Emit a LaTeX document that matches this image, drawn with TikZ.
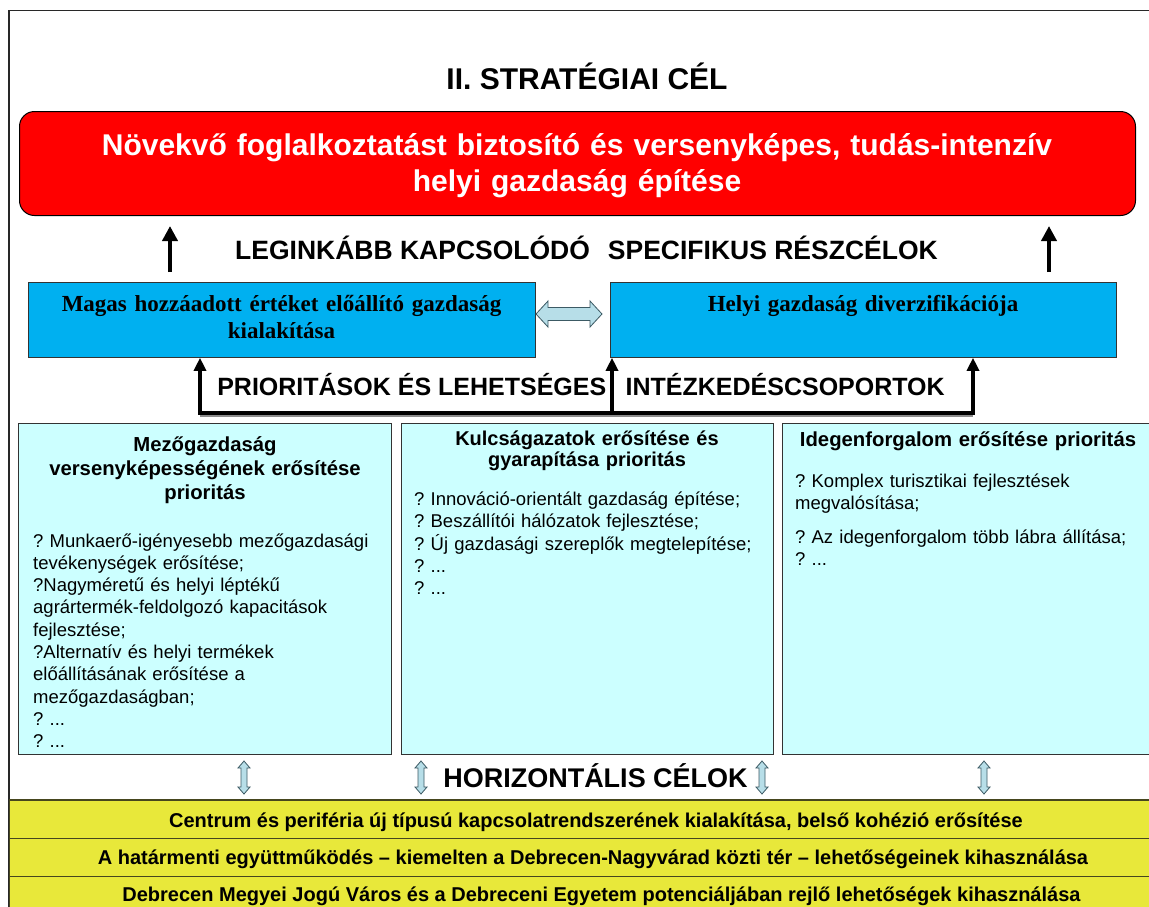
\documentclass[tikz,border=0pt]{standalone}
\usepackage{fontspec}
\setmainfont{Liberation Sans}
\newfontfamily\tnr{Liberation Serif}
\usetikzlibrary{arrows.meta}
\frenchspacing
\definecolor{redbox}{RGB}{255,0,0}
\definecolor{bluebox}{RGB}{0,176,240}
\definecolor{cyanbox}{RGB}{204,255,255}
\definecolor{yelbox}{RGB}{232,232,58}
\definecolor{arrfill}{RGB}{183,222,232}
\definecolor{arrline}{RGB}{60,90,100}
\definecolor{framecol}{RGB}{40,40,40}
\definecolor{yline}{RGB}{70,70,30}
\tikzset{
  goalbox/.style={draw=black, line width=1pt, fill=redbox, rounded corners=15pt, inner sep=0pt},
  subbox/.style={draw=black!80, line width=0.8pt, fill=bluebox, inner sep=0pt},
  prbox/.style={draw=black!80, line width=0.8pt, fill=cyanbox, inner sep=0pt},
  hrow/.style={draw=yline, line width=1pt, fill=yelbox, inner sep=0pt},
  upar/.style={line width=4pt, -{Triangle[width=15pt,length=15pt]}},
  brk/.style={line width=3.5pt, line join=miter},
  brkar/.style={line width=3.5pt, -{Triangle[width=12pt,length=13pt]}},
  dblar/.style={fill=arrfill, draw=arrline, line width=0.8pt, line join=miter},
  bigcap/.style={font=\fontsize{26.5}{30}\selectfont\bfseries, inner sep=0pt, anchor=base},
  phead/.style={font=\fontsize{20.3}{24}\selectfont\bfseries, inner sep=0pt, anchor=base, text width=370pt, align=center},
  pbody/.style={font=\fontsize{18.5}{22.3}\selectfont\frenchspacing, inner sep=0pt, anchor=base west, text width=360pt, align=left},
  htext/.style={font=\fontsize{20}{24}\selectfont\bfseries, inner sep=0pt, anchor=base}
}
\begin{document}
\begin{tikzpicture}[x=1pt,y=-1pt]
\useasboundingbox (0,0) rectangle (1149,906);
\clip (0,0) rectangle (1149,906);
\fill[white] (0,0) rectangle (1149,906);
% outer frame
\draw[framecol, line width=1.3pt] (9,930) -- (9,10.5) -- (1170,10.5);

% title
\node[font=\fontsize{30}{36}\selectfont\bfseries, inner sep=0pt, anchor=base] (title) at (587,89) {II. STRATÉGIAI CÉL};

% main goal
\node[goalbox, anchor=north west, minimum width=1116pt, minimum height=104pt] (goal) at (19,111) {};
\node[font=\fontsize{30}{36}\selectfont\bfseries, text=white, inner sep=0pt, anchor=base, text width=1100pt, align=center] (goaltext) at (577,155)
  {Növekvő foglalkoztatást biztosító és versenyképes, tudás-intenzív\\helyi gazdaság építése};

% sub-goal caption
\node[bigcap] (subcap) at (586.5,259) {LEGINKÁBB KAPCSOLÓDÓ\hspace{0.4em} SPECIFIKUS RÉSZCÉLOK};

% sub-goal boxes
\node[subbox, anchor=north west, minimum width=507pt, minimum height=75pt] (lb) at (28,282) {};
\node[subbox, anchor=north west, minimum width=506pt, minimum height=75pt] (rb) at (610,282) {};
\node[font=\tnr\bfseries\fontsize{23}{27.5}\selectfont, inner sep=0pt, anchor=base, text width=500pt, align=center] (lbtext) at (281.5,311)
  {Magas hozzáadott értéket előállító gazdaság\\kialakítása};
\node[font=\tnr\bfseries\fontsize{23}{27.5}\selectfont, inner sep=0pt, anchor=base, text width=500pt, align=center] (rbtext) at (863,311)
  {Helyi gazdaság diverzifikációja};

% up arrows to main goal
\coordinate (u1) at (170,272);
\coordinate (u2) at (1049,272);
\draw[upar, shorten >=10pt] (u1) -- (u1 |- goal.south);
\draw[upar, shorten >=10pt] (u2) -- (u2 |- goal.south);

% double arrow between sub-goals
\draw[dblar] (536,314) -- (548,301) -- (548,307.5) -- (590,307.5) -- (590,301) -- (602,314)
  -- (590,327) -- (590,320.5) -- (548,320.5) -- (548,327) -- cycle;

% priorities caption
\node[bigcap, font=\fontsize{25}{30}\selectfont\bfseries] (prcap) at (581,395.5) {PRIORITÁSOK ÉS LEHETSÉGES\hspace{0.5em} INTÉZKEDÉSCSOPORTOK};

% bracket arrows
\coordinate (b1) at (200,413);
\coordinate (b2) at (612,413);
\coordinate (b3) at (973,413);
\draw[black!45, line width=3pt] ([yshift=-2.5pt]b1) -- ([yshift=-2.5pt]b3);
\draw[brk] (b1) -- (b3);
\draw[brkar] ([yshift=-1.75pt]b1) -- (b1 |- lb.south);
\draw[brkar] ([yshift=-1.75pt]b2) -- (b2 |- rb.south);
\draw[brkar] ([yshift=-1.75pt]b3) -- (b3 |- rb.south);

% priority boxes
\node[prbox, anchor=north west, minimum width=373pt, minimum height=331pt] (p1) at (18,423) {};
\node[prbox, anchor=north west, minimum width=372pt, minimum height=331pt] (p2) at (401,423) {};
\node[prbox, anchor=north west, minimum width=372pt, minimum height=331pt] (p3) at (782,423) {};

\node[phead] (p1h) at (205,451) {Mezőgazdaság\\versenyképességének erősítése\\prioritás};
\node[pbody] (p1b) at (33,547) {? Munkaerő-igényesebb mezőgazdasági\\tevékenységek erősítése;\\?Nagyméretű és helyi léptékű\\agrártermék-feldolgozó kapacitások\\fejlesztése;\\?Alternatív és helyi termékek\\előállításának erősítése a\\mezőgazdaságban;\\? ...\\? ...};

\node[phead, font=\fontsize{20}{21}\selectfont\bfseries] (p2h) at (587,445) {Kulcságazatok erősítése és\\gyarapítása prioritás};
\node[pbody] (p2b) at (414,505.5) {? Innováció-orientált gazdaság építése;\\? Beszállítói hálózatok fejlesztése;\\? Új gazdasági szereplők megtelepítése;\\? ...\\? ...};

\node[phead] (p3h) at (968,446) {Idegenforgalom erősítése prioritás};
\node[pbody] (p3b) at (795,487) {? Komplex turisztikai fejlesztések\\megvalósítása;\\[11.7pt]? Az idegenforgalom több lábra állítása;\\? ...};

% horizontal goals caption
\node[bigcap, font=\fontsize{27}{30}\selectfont\bfseries] (hcap) at (595.5,787) {HORIZONTÁLIS CÉLOK};

% small vertical double arrows
\foreach \xx [count=\i] in {244,421,762,984}{
  \draw[dblar] (\xx,761) -- (\xx+6,768) -- (\xx+3,768) -- (\xx+3,787) -- (\xx+6,787) -- (\xx,794)
    -- (\xx-6,787) -- (\xx-3,787) -- (\xx-3,768) -- (\xx-6,768) -- cycle;
}

% horizontal goal rows
\node[hrow, anchor=north west, minimum width=1180pt, minimum height=38pt] (h1) at (9,800) {};
\node[hrow, anchor=north west, minimum width=1180pt, minimum height=38pt] (h2) at (9,838) {};
\node[hrow, anchor=north west, minimum width=1180pt, minimum height=38pt] (h3) at (9,876) {};
\draw[yline, line width=2.5pt] (h1.north west) -- (h1.north east);
\node[htext] (h1t) at (596,827) {Centrum és periféria új típusú kapcsolatrendszerének kialakítása, belső kohézió erősítése};
\node[htext] (h2t) at (593,864) {A határmenti együttműködés – kiemelten a Debrecen-Nagyvárad közti tér – lehetőségeinek kihasználása};
\node[htext] (h3t) at (601.5,901) {Debrecen Megyei Jogú Város és a Debreceni Egyetem potenciáljában rejlő lehetőségek kihasználása};
\end{tikzpicture}
\end{document}
